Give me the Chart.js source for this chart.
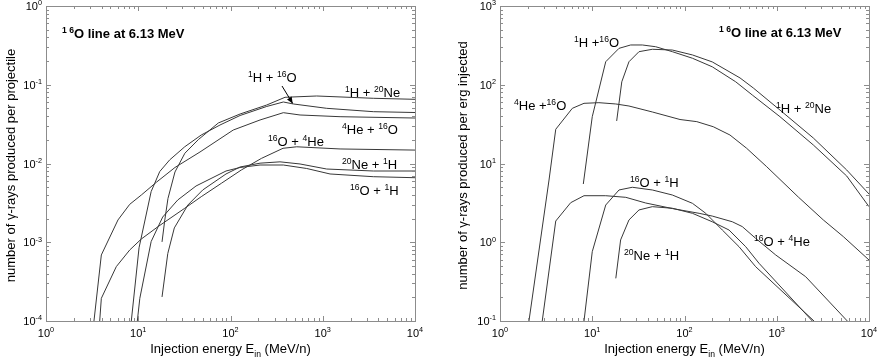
<!DOCTYPE html>
<html>
<head>
<meta charset="utf-8">
<script src="https://cdn.jsdelivr.net/npm/chart.js@4/dist/chart.umd.min.js"></script>
<style>
  html, body { margin: 0; padding: 0; background: #fff; }
  #wrap { position: relative; width: 879px; height: 360px; }
  canvas { position: absolute; top: 0; }
</style>
</head>
<body>
<div id="wrap">
  <canvas id="izq" width="440" height="360" style="left:0"></canvas>
  <canvas id="der" width="439" height="360" style="left:440px"></canvas>
</div>
<script>
// Datos (energía en MeV/n)

// Panel izquierdo: rayos gamma por proyectil
const projH16O_E = [8.41, 10.2, 13.8, 17.1, 21.9, 31.9, 48.2, 76.9, 127, 247, 374, 480, 1104, 3532, 10000];
const projH16O_Y = [1e-4, 8.5e-4, 4.4e-3, 7.9e-3, 0.0111, 0.0163, 0.023, 0.0308, 0.0407, 0.053, 0.0604, 0.057, 0.0502, 0.0455, 0.0444];

const projH20Ne_E = [18.1, 19.4, 21, 25, 32, 44.8, 73.8, 127, 247, 390, 860, 3532, 10000];
const projH20Ne_Y = [1.01e-3, 1.92e-3, 3.6e-3, 7.8e-3, 0.0135, 0.0201, 0.0327, 0.0425, 0.0553, 0.0693, 0.072, 0.0673, 0.0653];

const projHe16O_E = [3.31, 3.98, 6.03, 8.08, 10.8, 15.7, 25, 46.7, 107, 209, 374, 567, 1540, 10000];
const projHe16O_Y = [1e-4, 6.9e-4, 1.92e-3, 3.03e-3, 3.98e-3, 5.77e-3, 8.9e-3, 0.014, 0.0266, 0.0357, 0.0442, 0.0413, 0.0393, 0.0378];

const proj16OHe_E = [3.82, 3.98, 5.78, 8.08, 10.8, 16.4, 31.9, 48.2, 79.5, 131, 216, 371, 522, 1540, 10000];
const proj16OHe_Y = [1e-4, 1.94e-4, 4.9e-4, 7.97e-4, 1.1e-3, 1.58e-3, 2.7e-3, 3.79e-3, 5.6e-3, 8.27e-3, 0.0116, 0.0156, 0.0163, 0.0153, 0.0148];

const proj20NeH_E = [18.1, 20.9, 24.6, 34.5, 50, 89.4, 127, 209, 344, 567, 1104, 3532, 10000];
const proj20NeH_Y = [2.02e-4, 7.2e-4, 1.52e-3, 2.97e-3, 4.61e-3, 7.36e-3, 9.03e-3, 0.0101, 0.0105, 9.86e-3, 8.51e-3, 8.03e-3, 8.03e-3];

const proj16OH_E = [9.77, 10.4, 13.8, 18.4, 26.8, 42.3, 89.4, 127, 209, 374, 670, 1199, 3532, 10000];
const proj16OH_Y = [1e-4, 1.94e-4, 1.02e-3, 2.09e-3, 3.44e-3, 5.18e-3, 8.03e-3, 8.9e-3, 9.57e-3, 9.57e-3, 8.64e-3, 7.36e-3, 6.8e-3, 6.6e-3];

// Panel derecho: rayos gamma por erg inyectado
const ergH16O_E = [8.0, 10.0, 14, 19.5, 26.1, 34.9, 48.7, 73.8, 122, 200, 359, 543, 1084, 2489, 5730, 10000];
const ergH16O_Y = [5.49, 39.3, 196, 290, 320, 320, 304, 263, 217, 169, 109, 74.1, 39.3, 17.2, 6.94, 2.83];

const ergH20Ne_E = [18.4, 20.9, 25, 32.1, 44.8, 73.8, 122, 200, 400, 557, 1084, 2489, 5730, 10000];
const ergH20Ne_Y = [34.7, 109, 196, 263, 282, 276, 239, 195, 122, 91, 47.7, 21.1, 8.27, 4.10];

const ergHe16O_E = [2.06, 3.40, 4.02, 6.08, 8.14, 11.8, 18, 25, 44.8, 89.4, 136, 205, 311, 472, 778, 1713, 3197, 5264, 10000];
const ergHe16O_Y = [0.1, 6.17, 27.2, 50.2, 58.1, 59.2, 57.0, 53.7, 45.1, 36.2, 34, 29.3, 23, 15.6, 9.11, 3.75, 1.92, 1.18, 0.595];

const erg16OHe_E = [2.87, 4.02, 5.84, 8.14, 14, 23.1, 38, 73.8, 144, 200, 330, 423, 591, 975, 2060, 5820];
const erg16OHe_Y = [0.1, 1.86, 3.18, 3.90, 3.90, 3.72, 3.15, 2.68, 2.33, 2.15, 1.82, 1.58, 1.12, 0.689, 0.365, 0.1];

const erg16OH_E = [8.14, 10.0, 14, 19.5, 27.2, 44.8, 73.8, 122, 170, 257, 390, 591, 2535];
const erg16OH_Y = [0.1, 0.759, 2.97, 4.61, 4.99, 4.61, 3.98, 3.12, 2.33, 1.43, 0.878, 0.489, 0.1];

const erg20NeH_E = [18, 20.3, 25, 32.1, 44.8, 73.8, 122, 200, 304, 461, 642, 2430];
const erg20NeH_Y = [0.348, 1.07, 1.92, 2.57, 2.83, 2.70, 2.33, 1.82, 1.43, 0.878, 0.541, 0.1];

// Exponentes de las marcas principales (10^k)
const xTickExp = [0, 1, 2, 3, 4];
const izqYTickExp = [-4, -3, -2, -1, 0];
const derYTickExp = [-1, 0, 1, 2, 3];

(function () {
    const fuente = '"Liberation Sans", Arial, Helvetica, sans-serif';
    const colorCurva = '#383838';
    const colorMarco = '#8c8c8c';

    // Texto con superíndices ^{..} y subíndices _{..}
    function drawRich(ctx, s, x, y, size, weight, align) {
        const small = size * 0.66;
        const parts = [];
        const re = /\^\{([^}]*)\}|_\{([^}]*)\}|([^^_]+)/g;
        let m;
        while ((m = re.exec(s)) !== null) {
            if (m[1] !== undefined) parts.push({ t: m[1], dy: -size * 0.42, fs: small });
            else if (m[2] !== undefined) parts.push({ t: m[2], dy: size * 0.3, fs: small });
            else parts.push({ t: m[3], dy: 0, fs: size });
        }
        let w = 0;
        parts.forEach(p => {
            ctx.font = weight + ' ' + p.fs + 'px ' + fuente;
            p.w = ctx.measureText(p.t).width;
            w += p.w;
        });
        let cx = align === 'center' ? x - w / 2 : (align === 'right' ? x - w : x);
        ctx.textAlign = 'left';
        ctx.textBaseline = 'alphabetic';
        parts.forEach(p => {
            ctx.font = weight + ' ' + p.fs + 'px ' + fuente;
            ctx.fillText(p.t, cx, y + p.dy);
            cx += p.w;
        });
    }

    // Marcas menores y mayores de un eje logarítmico
    function logTicks(exps) {
        const out = [];
        for (let i = 0; i < exps.length - 1; i++) {
            for (let k = 1; k < 10; k++) out.push({ v: k * Math.pow(10, exps[i]), major: k === 1 });
        }
        out.push({ v: Math.pow(10, exps[exps.length - 1]), major: true });
        return out;
    }

    // Plugin que dibuja marco, marcas hacia dentro, textos y flecha
    function panelPlugin(cfg) {
        return {
            id: 'marco',
            afterDatasetsDraw(chart) {
                const ctx = chart.ctx;
                const a = chart.chartArea;
                const sx = chart.scales.x;
                const sy = chart.scales.y;
                ctx.save();

                ctx.strokeStyle = colorMarco;
                ctx.lineWidth = 1;
                ctx.strokeRect(a.left + 0.5, a.top + 0.5, a.right - a.left, a.bottom - a.top);

                ctx.beginPath();
                logTicks(xTickExp).forEach(t => {
                    const px = Math.round(sx.getPixelForValue(t.v)) + 0.5;
                    const len = t.major ? 5 : 3;
                    ctx.moveTo(px, a.bottom); ctx.lineTo(px, a.bottom - len);
                    ctx.moveTo(px, a.top); ctx.lineTo(px, a.top + len);
                });
                logTicks(cfg.yExp).forEach(t => {
                    const py = Math.round(sy.getPixelForValue(t.v)) + 0.5;
                    const len = t.major ? 5 : 3;
                    ctx.moveTo(a.left, py); ctx.lineTo(a.left + len, py);
                    ctx.moveTo(a.right, py); ctx.lineTo(a.right - len, py);
                });
                ctx.stroke();

                ctx.fillStyle = '#000';
                xTickExp.forEach(k => {
                    const px = sx.getPixelForValue(Math.pow(10, k));
                    drawRich(ctx, '10^{' + k + '}', px, a.bottom + 16, 11, 'normal', 'center');
                });
                cfg.yExp.forEach(k => {
                    const py = sy.getPixelForValue(Math.pow(10, k));
                    drawRich(ctx, '10^{' + k + '}', a.left - 4, py + 4, 11, 'normal', 'right');
                });

                // Títulos de los ejes
                drawRich(ctx, 'Injection energy E_{in} (MeV/n)', (a.left + a.right) / 2, a.bottom + 32, 13, 'normal', 'center');
                ctx.save();
                ctx.translate(a.left + cfg.yTitleDx, (a.top + a.bottom) / 2 + 2);
                ctx.rotate(-Math.PI / 2);
                drawRich(ctx, cfg.yTitle, 0, 0, 13, 'normal', 'center');
                ctx.restore();

                // Título interno en negrita
                drawRich(ctx, cfg.title.text, a.left + cfg.title.dx, a.top + cfg.title.dy, 13, 'bold', 'left');

                // Etiquetas de las curvas
                cfg.labels.forEach(l => {
                    drawRich(ctx, l.text, a.left + l.dx, a.top + l.dy, 13, 'normal', 'left');
                });

                // Flecha
                if (cfg.arrow) {
                    const x0 = a.left + cfg.arrow[0], y0 = a.top + cfg.arrow[1];
                    const x1 = a.left + cfg.arrow[2], y1 = a.top + cfg.arrow[3];
                    ctx.strokeStyle = '#000';
                    ctx.beginPath();
                    ctx.moveTo(x0, y0);
                    ctx.lineTo(x1, y1);
                    ctx.stroke();
                    const ang = Math.atan2(y1 - y0, x1 - x0);
                    const h = 7;
                    ctx.beginPath();
                    ctx.moveTo(x1, y1);
                    ctx.lineTo(x1 - h * Math.cos(ang - 0.4), y1 - h * Math.sin(ang - 0.4));
                    ctx.lineTo(x1 - h * Math.cos(ang + 0.4), y1 - h * Math.sin(ang + 0.4));
                    ctx.closePath();
                    ctx.fill();
                }
                ctx.restore();
            }
        };
    }

    function makeChart(id, series, yMin, yMax, padding, cfg) {
        return new Chart(document.getElementById(id), {
            type: 'line',
            data: {
                datasets: series.map(s => ({
                    data: s[0].map((e, i) => ({ x: e, y: s[1][i] })),
                    borderColor: colorCurva,
                    borderWidth: 1,
                    pointRadius: 0,
                    fill: false,
                    tension: 0
                }))
            },
            options: {
                responsive: false,
                animation: false,
                events: [],
                layout: { padding: padding },
                plugins: { legend: { display: false }, tooltip: { enabled: false } },
                scales: {
                    x: { type: 'logarithmic', min: 1, max: 1e4, display: false },
                    y: { type: 'logarithmic', min: yMin, max: yMax, display: false }
                }
            },
            plugins: [panelPlugin(cfg)]
        });
    }

    // Gráfico izquierdo
    makeChart('izq', [
        [projH16O_E, projH16O_Y],
        [projH20Ne_E, projH20Ne_Y],
        [projHe16O_E, projHe16O_Y],
        [proj16OHe_E, proj16OHe_Y],
        [proj20NeH_E, proj20NeH_Y],
        [proj16OH_E, proj16OH_Y]
    ], 1e-4, 1, { left: 46, right: 25, top: 6, bottom: 39 }, {
        yExp: izqYTickExp,
        yTitle: 'number of \u03b3-rays produced per projectile',
        yTitleDx: -31,
        title: { text: '^{1 6}O line at 6.13 MeV', dx: 16, dy: 32 },
        labels: [
            { text: '^{1}H + ^{16}O', dx: 202, dy: 76 },
            { text: '^{1}H + ^{20}Ne', dx: 299, dy: 91 },
            { text: '^{4}He + ^{16}O', dx: 296, dy: 128 },
            { text: '^{16}O + ^{4}He', dx: 222, dy: 140 },
            { text: '^{20}Ne + ^{1}H', dx: 296, dy: 163 },
            { text: '^{16}O + ^{1}H', dx: 304, dy: 189 }
        ],
        arrow: [236, 80, 246.7, 97.5]
    });

    // Gráfico derecho
    makeChart('der', [
        [ergH16O_E, ergH16O_Y],
        [ergH20Ne_E, ergH20Ne_Y],
        [ergHe16O_E, ergHe16O_Y],
        [erg16OHe_E, erg16OHe_Y],
        [erg16OH_E, erg16OH_Y],
        [erg20NeH_E, erg20NeH_Y]
    ], 0.1, 1000, { left: 60, right: 10, top: 6, bottom: 39 }, {
        yExp: derYTickExp,
        yTitle: 'number of \u03b3-rays produced per erg injected',
        yTitleDx: -33,
        title: { text: '^{1 6}O line at 6.13 MeV', dx: 219, dy: 31 },
        labels: [
            { text: '^{1}H +^{16}O', dx: 74, dy: 41 },
            { text: '^{4}He +^{16}O', dx: 14, dy: 104 },
            { text: '^{1}H + ^{20}Ne', dx: 276, dy: 107 },
            { text: '^{16}O + ^{1}H', dx: 130, dy: 181 },
            { text: '^{20}Ne + ^{1}H', dx: 124, dy: 254 },
            { text: '^{16}O + ^{4}He', dx: 254, dy: 240 }
        ],
        arrow: null
    });
})();
</script>
</body>
</html>
